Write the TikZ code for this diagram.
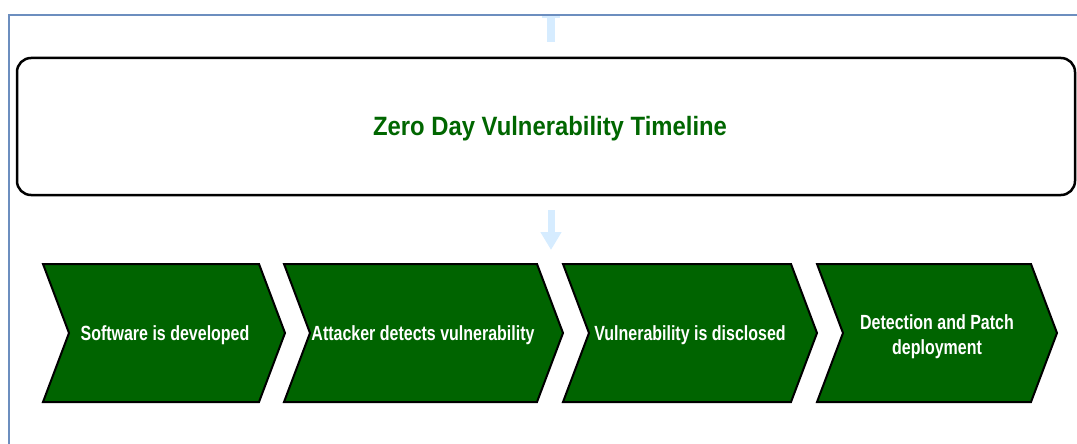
\documentclass[tikz,border=0pt]{standalone}
\usepackage{fontspec}
\setmainfont{Liberation Sans}
\newfontfamily\titlefont{Liberation Sans}[FakeStretch=0.9]
\newfontfamily\chevfont{Liberation Sans}[FakeStretch=0.78]
\usetikzlibrary{arrows.meta}
\definecolor{framebl}{RGB}{108,142,191}
\definecolor{chevgreen}{RGB}{0,100,0}
\definecolor{titlegreen}{RGB}{0,102,0}
\definecolor{lightarr}{RGB}{214,236,255}
\tikzset{
  chevshape/.style={fill=chevgreen, draw=black, line width=2pt, line join=miter},
  chevtext/.style={text=white, font=\chevfont\bfseries\fontsize{20.5}{25}\selectfont, align=center, inner sep=0pt},
  titlebox/.style={draw=black, line width=2.5pt, rounded corners=14pt, minimum width=1058pt, minimum height=137pt, inner sep=0pt},
  titletext/.style={text=titlegreen, font=\titlefont\bfseries\fontsize{26.5}{30}\selectfont, inner sep=0pt},
  flowarrow/.style={draw=lightarr, line width=7pt, -{Triangle[width=20pt,length=18pt]}},
  frameline/.style={draw=framebl, line width=2pt}
}
\newcommand\chevron[2]{%
  \draw[chevshape] (#1,264) -- (#2-26,264) -- (#2,333) -- (#2-26,402) -- (#1,402) -- (#1+26,333) -- cycle;}
\begin{document}
\begin{tikzpicture}[x=1pt,y=-1pt]
\useasboundingbox (0,0) rectangle (1077,444);
% top stub
\fill[lightarr] (542,15) rectangle (560,18);
\fill[lightarr] (547,15) rectangle (555,42);
% frame
\draw[frameline] (9,446) -- (9,15) -- (1079,15);
% title
\node[titlebox] (title) at (546,126.5) {};
\node[titletext] (titlelabel) at (550,128.5) {Zero Day Vulnerability Timeline};
\coordinate (arrS) at (551,210);
\coordinate (arrE) at (551,250);
\draw[flowarrow] (arrS) -- (arrE);
% chevrons
\chevron{43}{285}
\chevron{284}{563}
\chevron{563}{817}
\chevron{817}{1057}
\node[chevtext] (s1) at (165,335) {Software is developed};
\node[chevtext] (s2) at (423,335) {Attacker detects vulnerability};
\node[chevtext] (s3) at (690,335) {Vulnerability is disclosed};
\node[chevtext] (s4) at (937,337) {Detection and Patch\\deployment};
\end{tikzpicture}
\end{document}
